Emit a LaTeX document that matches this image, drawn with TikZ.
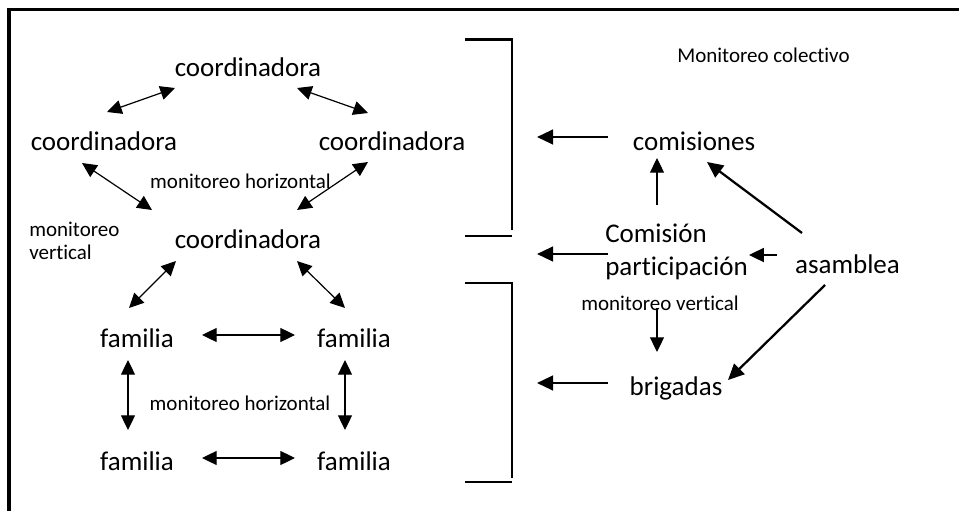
\documentclass[tikz,border=0pt]{standalone}
\usepackage{fontspec}
\setmainfont{Carlito}[Ligatures=NoCommon]
\usepackage{tikz}
\usetikzlibrary{arrows.meta}
\newcommand{\diagbig}{\fontsize{20.25pt}{25pt}\selectfont}
\newcommand{\diagsmall}{\fontsize{15.75pt}{17.25pt}\selectfont}
\tikzset{
  bigtxt/.style={inner sep=0pt, font=\diagbig},
  smalltxt/.style={inner sep=0pt, font=\diagsmall},
  dblarrow/.style={{Triangle[length=11pt,width=10.5pt]}-{Triangle[length=11pt,width=10.5pt]}, line width=0.9pt},
  arrow/.style={-{Triangle[length=12pt,width=11pt]}, line width=1.7pt},
  thinarrow/.style={-{Triangle[length=11pt,width=10.5pt]}, line width=0.8pt},
  bracket/.style={line width=1.6pt},
  frame/.style={line width=2.3pt}
}
\begin{document}
\begin{tikzpicture}[x=0.75pt, y=-0.75pt]
  \useasboundingbox (0,0) rectangle (959,510);
  % outer frame (top and left only)
  \draw[frame] (9,512) -- (9,9.5) -- (962,9.5);

  % brackets
  \draw[bracket] (465,39.5) -- (512,39.5) -- (512,230);
  \draw[bracket] (465,236) -- (512,236);
  \draw[bracket] (465,283) -- (512,283) -- (512,478);
  \draw[bracket] (465,482) -- (512,482);
  \coordinate (into1) at (537,137);
  \coordinate (into2) at (537,254);
  \coordinate (into3) at (537,383);

  % coordinadoras
  \node[bigtxt, anchor=base] (ctop)   at (248,76)  {coordinadora};
  \node[bigtxt, anchor=base] (cleft)  at (104,150) {coordinadora};
  \node[bigtxt, anchor=base] (cright) at (392,150) {coordinadora};
  \node[bigtxt, anchor=base] (cmid)   at (248,248) {coordinadora};
  \node[smalltxt, anchor=base] (hor1) at (240.5,188) {monitoreo horizontal};
  \node[smalltxt, anchor=north west, align=left] (vert1) at (29,222) {monitoreo\\vertical};

  % familias
  \node[bigtxt, anchor=base] (famTL) at (137,347) {familia};
  \node[bigtxt, anchor=base] (famTR) at (354,347) {familia};
  \node[bigtxt, anchor=base] (famBL) at (137,470) {familia};
  \node[bigtxt, anchor=base] (famBR) at (354,470) {familia};
  \node[smalltxt, anchor=base] (hor2) at (240,410) {monitoreo horizontal};

  \draw[dblarrow] ([shift={(-73,12)}]ctop.base) -- ([shift={(3,-38)}]cleft.base);
  \draw[dblarrow] ([shift={(49,12)}]ctop.base) -- ([shift={(-24,-37)}]cright.base);
  \draw[dblarrow] ([shift={(-22,13)}]cleft.base) -- ([shift={(-96,-38)}]cmid.base);
  \draw[dblarrow] ([shift={(-24,12)}]cright.base) -- ([shift={(49,-38)}]cmid.base);
  \draw[dblarrow] ([shift={(-72,13)}]cmid.base) -- ([shift={(-8,-39)}]famTL.base);
  \draw[dblarrow] ([shift={(49,13)}]cmid.base) -- ([shift={(-9,-39)}]famTR.base);
  \draw[dblarrow] ([shift={(65,-12)}]famTL.base) -- ([shift={(-59,-12)}]famTR.base);
  \draw[dblarrow] ([shift={(65,-12)}]famBL.base) -- ([shift={(-59,-12)}]famBR.base);
  \draw[dblarrow] ([shift={(-9,13)}]famTL.base) -- ([shift={(-9,-40)}]famBL.base);
  \draw[dblarrow] ([shift={(-9,13)}]famTR.base) -- ([shift={(-9,-40)}]famBR.base);

  % right side
  \node[smalltxt, anchor=base] (colect) at (763.5,63) {Monitoreo colectivo};
  \node[bigtxt, anchor=base] (comis) at (694,150) {comisiones};
  \node[bigtxt, anchor=west, align=left] (comp) at (605,252) {Comisión\\participación};
  \node[bigtxt, anchor=base] (asamb) at (847.5,273) {asamblea};
  \node[smalltxt, anchor=base] (vert2) at (660,310) {monitoreo vertical};
  \node[bigtxt, anchor=base] (brig) at (676,395) {brigadas};

  \draw[arrow] ([shift={(-86,-13)}]comis.base) -- (into1);
  \draw[arrow] ([shift={(3,2)}]comp.west) -- (into2);
  \draw[arrow] ([shift={(-68,-12)}]brig.base) -- (into3);
  \draw[thinarrow] ([shift={(52,-47)}]comp.west) -- ([shift={(-37,8)}]comis.base);
  \draw[arrow] ([shift={(-45.5,-40)}]asamb.base) -- ([shift={(13,12)}]comis.base);
  \draw[thinarrow, line width=1.2pt] ([shift={(-70.5,-18)}]asamb.base) -- ([shift={(1,3)}]comp.east);
  \draw[arrow] ([shift={(-22.5,12)}]asamb.base) -- ([shift={(52,-15)}]brig.base);
  \draw[thinarrow] ([shift={(52,56)}]comp.west) -- ([shift={(-19,-43)}]brig.base);
\end{tikzpicture}
\end{document}
